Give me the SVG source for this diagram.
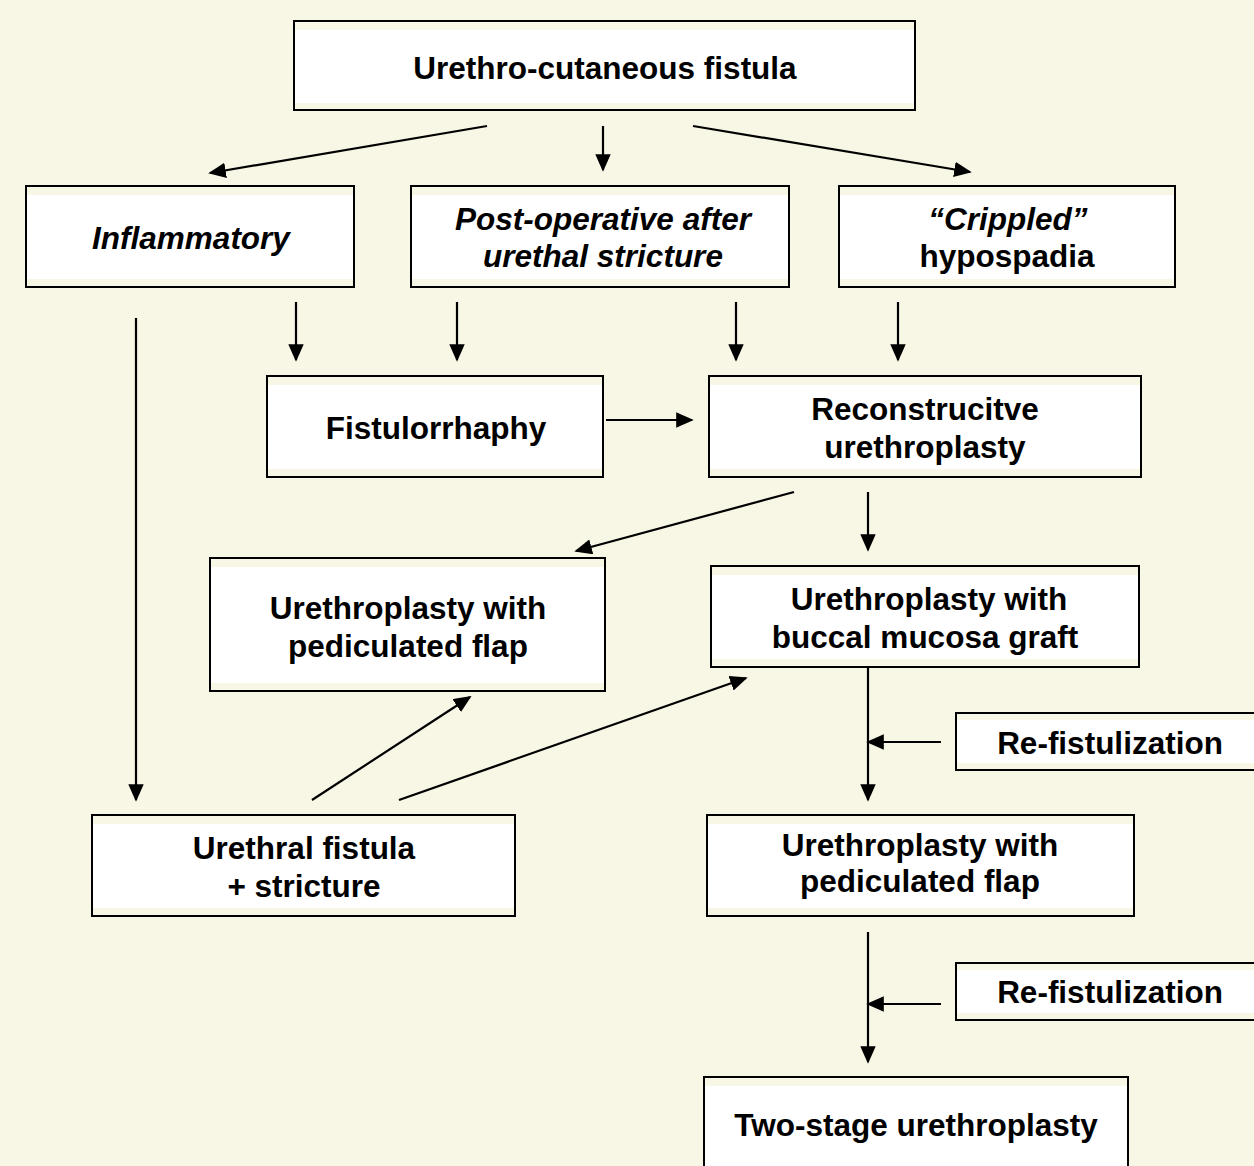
<svg xmlns="http://www.w3.org/2000/svg" width="1254" height="1166" viewBox="0 0 1254 1166">
<defs>
<style>
.bg{fill:#F8F6E4}
.in{fill:#FFFFFF}
.bd{fill:none;stroke:#000;stroke-width:2}
text{font-family:"Liberation Sans",Arial,Helvetica,sans-serif;font-weight:bold;font-size:31.5px;fill:#000;text-anchor:middle}
.it{font-style:italic}
.c{stroke:#000;stroke-width:2.2;fill:none;marker-end:url(#ah)}
</style>
<marker id="ah" viewBox="0 0 10 10" refX="9" refY="5" markerWidth="8" markerHeight="7" markerUnits="strokeWidth" orient="auto" preserveAspectRatio="none">
<path d="M0,0 L10,5 L0,10 Z" fill="#000"/>
</marker>
</defs>
<rect class="bg" x="0" y="0" width="1254" height="1166"/>

<g id="n-fistula">
<rect class="in" x="294" y="30" width="621" height="73"/>
<rect class="bd" x="294" y="21" width="621" height="89"/>
<text x="605" y="79">Urethro-cutaneous fistula</text>
</g>

<g id="n-inflammatory">
<rect class="in" x="26" y="195" width="328" height="84"/>
<rect class="bd" x="26" y="186" width="328" height="101"/>
<text class="it" x="191" y="249">Inflammatory</text>
</g>

<g id="n-postop">
<rect class="in" x="411" y="195" width="378" height="84"/>
<rect class="bd" x="411" y="186" width="378" height="101"/>
<text class="it" x="603" y="230">Post-operative after</text>
<text class="it" x="603" y="267">urethal stricture</text>
</g>

<g id="n-crippled">
<rect class="in" x="839" y="195" width="336" height="84"/>
<rect class="bd" x="839" y="186" width="336" height="101"/>
<text class="it" x="1008" y="230">“Crippled”</text>
<text x="1007" y="267">hypospadia</text>
</g>

<g id="n-fistulorrhaphy">
<rect class="in" x="267" y="385" width="336" height="84"/>
<rect class="bd" x="267" y="376" width="336" height="101"/>
<text x="436" y="439">Fistulorrhaphy</text>
</g>

<g id="n-reconstructive">
<rect class="in" x="709" y="385" width="432" height="84"/>
<rect class="bd" x="709" y="376" width="432" height="101"/>
<text x="925" y="420">Reconstrucitve</text>
<text x="925" y="458">urethroplasty</text>
</g>

<g id="n-flap-left">
<rect class="in" x="210" y="567" width="395" height="116"/>
<rect class="bd" x="210" y="558" width="395" height="133"/>
<text x="408" y="619">Urethroplasty with</text>
<text x="408" y="657">pediculated flap</text>
</g>

<g id="n-buccal">
<rect class="in" x="711" y="575" width="428" height="84"/>
<rect class="bd" x="711" y="566" width="428" height="101"/>
<text x="929" y="610">Urethroplasty with</text>
<text x="925" y="648">buccal mucosa graft</text>
</g>

<g id="n-refist1">
<rect class="in" x="956" y="720" width="310" height="43"/>
<rect class="bd" x="956" y="713" width="310" height="57"/>
<text x="1110" y="754">Re-fistulization</text>
</g>

<g id="n-urethral">
<rect class="in" x="92" y="824" width="423" height="84"/>
<rect class="bd" x="92" y="815" width="423" height="101"/>
<text x="304" y="859">Urethral fistula</text>
<text x="304" y="897">+ stricture</text>
</g>

<g id="n-flap-right">
<rect class="in" x="707" y="824" width="427" height="84"/>
<rect class="bd" x="707" y="815" width="427" height="101"/>
<text x="920" y="856">Urethroplasty with</text>
<text x="920" y="892">pediculated flap</text>
</g>

<g id="n-refist2">
<rect class="in" x="956" y="970" width="310" height="43"/>
<rect class="bd" x="956" y="963" width="310" height="57"/>
<text x="1110" y="1003">Re-fistulization</text>
</g>

<g id="n-twostage">
<rect class="in" x="704" y="1086" width="424" height="84"/>
<rect class="bd" x="704" y="1077" width="424" height="110"/>
<text x="916" y="1136">Two-stage urethroplasty</text>
</g>

<g id="connectors">
<line class="c" x1="487" y1="126" x2="210" y2="173"/>
<line class="c" x1="603" y1="126" x2="603" y2="170"/>
<line class="c" x1="693" y1="126" x2="970" y2="172"/>
<line class="c" x1="136" y1="318" x2="136" y2="800"/>
<line class="c" x1="296" y1="302" x2="296" y2="360"/>
<line class="c" x1="457" y1="302" x2="457" y2="360"/>
<line class="c" x1="736" y1="302" x2="736" y2="360"/>
<line class="c" x1="898" y1="302" x2="898" y2="360"/>
<line class="c" x1="606" y1="420" x2="692" y2="420"/>
<line class="c" x1="794" y1="492" x2="576" y2="551"/>
<line class="c" x1="868" y1="492" x2="868" y2="550"/>
<line class="c" x1="312" y1="800" x2="470" y2="697"/>
<line class="c" x1="399" y1="800" x2="746" y2="678"/>
<line class="c" x1="868" y1="668" x2="868" y2="800"/>
<line class="c" x1="941" y1="742" x2="868" y2="742"/>
<line class="c" x1="868" y1="932" x2="868" y2="1062"/>
<line class="c" x1="941" y1="1004" x2="868" y2="1004"/>
</g>
</svg>
